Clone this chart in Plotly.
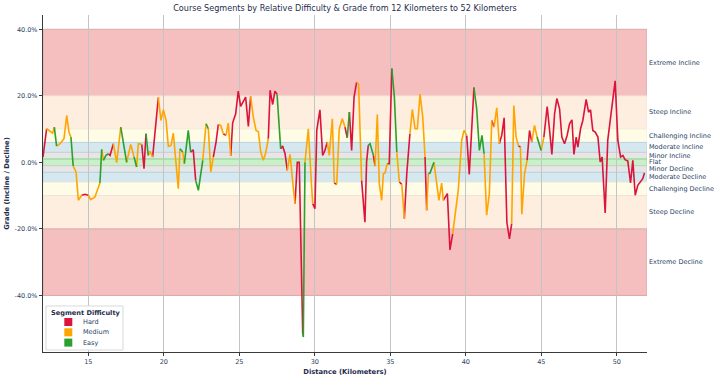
import plotly.graph_objects as go

# ---- data ----
distance_km = [
    12.0, 12.24, 12.46, 12.64, 12.75, 12.9, 13.13, 13.39, 13.57, 13.72, 13.85, 14.0, 14.19, 14.34, 14.56,
    14.78, 15.0, 15.16, 15.44, 15.6, 15.77, 15.89, 16.0, 16.17, 16.33, 16.44, 16.66, 16.88, 17.15, 17.32,
    17.54, 17.81, 18.03, 18.2, 18.31, 18.54, 18.69, 18.82, 18.97, 19.09, 19.26, 19.48, 19.64, 19.81, 19.97,
    20.15, 20.3, 20.48, 20.63, 20.79, 20.96, 21.07, 21.25, 21.36, 21.62, 21.78, 21.95, 22.11, 22.29, 22.58,
    22.8, 22.95, 23.11, 23.28, 23.46, 23.61, 23.77, 23.94, 24.12, 24.27, 24.43, 24.56, 24.76, 24.93, 25.09,
    25.27, 25.42, 25.6, 25.75, 25.93, 26.11, 26.26, 26.42, 26.59, 26.75, 26.92, 27.04, 27.21, 27.36, 27.5,
    27.74, 27.87, 28.03, 28.18, 28.36, 28.58, 28.69, 28.84, 28.97, 29.2, 29.24, 29.35, 29.57, 29.79, 29.86,
    30.01, 30.13, 30.34, 30.52, 30.67, 30.83, 30.96, 31.16, 31.29, 31.45, 31.62, 31.82, 32.0, 32.15, 32.29,
    32.44, 32.6, 32.77, 32.9, 33.1, 33.32, 33.43, 33.54, 33.66, 33.88, 33.99, 34.14, 34.27, 34.43, 34.54,
    34.65, 34.8, 34.93, 35.1, 35.27, 35.43, 35.6, 35.76, 35.93, 36.09, 36.3, 36.46, 36.64, 36.79, 36.97,
    37.15, 37.3, 37.41, 37.52, 37.63, 37.89, 38.07, 38.22, 38.4, 38.51, 38.78, 38.95, 39.13, 39.28, 39.5,
    39.73, 39.88, 40.06, 40.23, 40.54, 40.72, 40.9, 41.07, 41.21, 41.38, 41.56, 41.72, 41.87, 42.05, 42.22,
    42.38, 42.54, 42.72, 42.89, 43.04, 43.18, 43.33, 43.49, 43.62, 43.71, 43.89, 44.06, 44.22, 44.37, 44.55,
    44.72, 44.88, 44.99, 45.17, 45.39, 45.55, 45.7, 45.88, 46.03, 46.21, 46.36, 46.54, 46.71, 46.87, 47.03,
    47.16, 47.31, 47.42, 47.6, 47.75, 47.97, 48.13, 48.26, 48.41, 48.57, 48.75, 48.9, 49.03, 49.23, 49.4,
    49.62, 49.89, 50.07, 50.25, 50.4, 50.55, 50.73, 50.91, 51.06, 51.22, 51.39, 51.57, 51.72, 51.83,
]
grade_pct = [
    1.6, 10.1, 9.4, 8.8, 10.6, 4.9, 5.6, 7.1, 14.1, 9.1, 7.6, -1.1, -2.9, -11.4, -9.9,
    -9.6, -9.9, -11.2, -10.4, -8.4, -6.2, 3.9, 0.6, 2.1, 2.6, 2.1, 5.6, -0.1, 10.6, 5.6,
    0.0, 5.4, 1.6, -1.4, 5.6, 5.4, -1.9, 8.6, 2.1, 3.3, 1.6, 12.6, 19.5, 12.6, 15.8,
    12.6, 4.8, 5.1, 8.8, 1.6, -7.9, 4.1, 3.1, -0.4, 9.6, 3.1, 3.8, -5.4, -8.4, 0.6,
    11.6, 10.1, -2.9, 1.6, 6.1, 11.4, 11.1, 8.6, 8.1, 11.8, 1.9, 11.9, 14.6, 21.4, 16.8,
    18.6, 19.6, 10.8, 19.8, 13.6, 9.6, 9.3, 3.1, 0.6, 2.9, 7.1, 21.7, 17.4, 21.4, 20.5,
    4.1, 4.9, 2.6, -2.4, 2.4, -7.9, -12.4, 0.0, 0.0, -51.5, -52.5, 0.0, 10.1, -7.4, -12.4,
    -13.9, 9.6, 15.8, 2.1, 3.6, 6.1, 2.1, 13.1, -6.2, -6.6, 10.1, 13.1, 10.6, 7.4, 15.1,
    3.6, 19.6, 24.1, 23.5, -5.4, -18.0, 0.1, 5.1, 5.6, 2.1, -1.1, 14.4, -6.4, -11.4, -3.4,
    -3.2, -0.4, -0.4, 28.2, 19.6, 3.1, -5.9, -6.6, -16.9, -3.4, 8.6, 15.9, 10.1, 10.1, 20.5,
    13.6, 1.6, -14.4, -3.4, -3.2, 0.0, -6.4, -11.4, -6.2, -11.4, -9.4, -26.3, -21.5, -16.4, -8.4,
    6.6, 9.6, 8.1, -3.6, 22.5, 16.1, 3.6, 8.1, 2.6, -15.9, -9.4, 12.6, 10.6, 16.4, 5.6,
    8.1, 13.4, -18.0, -23.0, -18.4, 17.1, 7.6, 4.9, 4.6, -15.6, -3.4, 0.6, 9.6, 6.1, 11.1,
    7.6, 5.1, 3.6, 7.6, 16.8, 9.6, 2.4, 14.6, 19.2, 16.1, 7.6, 5.6, 8.1, 11.6, 12.8,
    2.4, 7.6, 4.6, 10.1, 12.6, 18.9, 15.1, 15.8, 9.6, 9.1, 7.6, 0.1, 1.6, -15.2, 6.6,
    15.1, 24.5, 6.6, 1.6, 2.1, 0.8, 0.4, -6.2, 0.6, -9.9, -6.9, -5.9, -4.9, -3.2,
]
# difficulty of the segment ending at each point (first entry unused): H=Hard, M=Medium, E=Easy
segment_difficulty = list(
    "-HMMMEMMMMMEMMM"
    "HHMMMMEMEEHHMME"
    "EMMEMMHHEMMHHMM"
    "MMMMMMMEMEEHHEE"
    "MEMMHHMMHMMHHHH"
    "HHHHMMMMMMMHHHH"
    "EHHHMMMHHHEEMMM"
    "HHHHHHMMMHMMMHE"
    "HHHMMHHHEEHMMMM"
    "MMHHEEMHMHHMMMM"
    "MMHMEEMMMMHHHMM"
    "MMMHHEEEEMMMHMM"
    "HHHHHMMMHMMMHHM"
    "MEEMHHHHHHHHHHH"
    "HHHHHHHHHHHHHHH"
    "HHHHHHHHHHHHHH"
)
difficulty_names = {"H": "Hard", "M": "Medium", "E": "Easy"}
difficulty_colors = {"Hard": "#dc143c", "Medium": "#ffa500", "Easy": "#2ca02c"}
legend_order = ["Hard", "Medium", "Easy"]

band_names = ["Extreme Incline", "Steep Incline", "Challenging Incline", "Moderate Incline", "Minor Incline",
              "Flat", "Minor Decline", "Moderate Decline", "Challenging Decline", "Steep Decline", "Extreme Decline"]
band_low = [20, 10, 6, 3, 1, -1, -3, -6, -10, -20, -40]
band_high = [40, 20, 10, 6, 3, 1, -1, -3, -6, -10, -20]
band_fill = ["#f6bfbf", "#fdeee0", "#fefce6", "#d5e8f0", "#e6e6e6", "#c8f1c8",
             "#e6e6e6", "#d5e8f0", "#fefce6", "#fdeee0", "#f6bfbf"]
band_line = ["#d9a9a9", "#f2e2d4", "#f5f3dc", "#b9d3de", "#cfcfcf", "#8fd88f",
             "#cfcfcf", "#b9d3de", "#f5f3dc", "#f2e2d4", "#d9a9a9"]

x_ticks = [15, 20, 25, 30, 35, 40, 45, 50]
y_ticks = [40, 20, 0, -20, -40]
y_tick_text = ["40.0%", "20.0%", "0.0%", "-20.0%", "-40.0%"]

font_family = "DejaVu Sans"
text_color = "#2a3f5f"

# plot-area geometry (pixels) used to place the hand-drawn legend box
W, H = 720, 378
ML, MR, MT, MB = 43, 73, 15, 26
PW, PH = W - ML - MR, H - MT - MB


def px(xp):
    return (xp - ML) / PW


def py(yp):
    return (H - MB - yp) / PH


fig = go.Figure()

# bands
for name, lo, hi, fc, lc in zip(band_names, band_low, band_high, band_fill, band_line):
    fig.add_shape(type="rect", xref="x", yref="y", x0=12, x1=52, y0=lo, y1=hi,
                  fillcolor=fc, line=dict(color=lc, width=1), layer="below")
    fig.add_annotation(xref="paper", yref="y", x=1.0, y=(lo + hi) / 2, text=name, showarrow=False,
                       xanchor="left", yanchor="middle", xshift=0,
                       font=dict(size=6.5, color=text_color, family=font_family))

# coloured line segments, grouped per difficulty
n = min(len(distance_km), len(grade_pct), len(segment_difficulty))
for code, name in difficulty_names.items():
    xs, ys = [], []
    i = 1
    while i < n:
        if segment_difficulty[i] == code:
            xs.append(distance_km[i - 1]); ys.append(grade_pct[i - 1])
            while i < n and segment_difficulty[i] == code:
                xs.append(distance_km[i]); ys.append(grade_pct[i])
                i += 1
            xs.append(None); ys.append(None)
        else:
            i += 1
    fig.add_trace(go.Scatter(x=xs, y=ys, mode="lines", name=name,
                             line=dict(color=difficulty_colors[name], width=1.6),
                             showlegend=False, hoverinfo="skip", connectgaps=False))

# legend box (drawn by hand so its compact spacing matches)
fig.add_shape(type="rect", xref="paper", yref="paper", x0=px(46), x1=px(123), y0=py(350), y1=py(306),
              fillcolor="white", line=dict(color="#d9d9d9", width=1), layer="above")
fig.add_annotation(xref="paper", yref="paper", x=px(49), y=py(312.5), text="<b>Segment Difficulty</b>",
                   showarrow=False, xanchor="left", yanchor="middle",
                   font=dict(size=6.6, color="#1f2d4d", family=font_family))
for k, name in enumerate(legend_order):
    yc = 322 + k * 10.3
    fig.add_shape(type="rect", xref="paper", yref="paper", x0=px(64.3), x1=px(72.3), y0=py(yc + 4), y1=py(yc - 4),
                  fillcolor=difficulty_colors[name], line=dict(width=0), layer="above")
    fig.add_annotation(xref="paper", yref="paper", x=px(80.5), y=py(yc), text=name, showarrow=False,
                       xanchor="left", yanchor="middle",
                       font=dict(size=6.5, color=text_color, family=font_family))

fig.update_layout(
    width=W, height=H,
    template="plotly_white",
    paper_bgcolor="white", plot_bgcolor="white",
    margin=dict(l=ML, r=MR, t=MT, b=MB, autoexpand=False),
    font=dict(family=font_family, color=text_color, size=6.5),
    title=dict(text="Course Segments by Relative Difficulty & Grade from 12 Kilometers to 52 Kilometers",
               x=0.5, xref="paper", xanchor="center", y=1 - 8 / H, yanchor="middle",
               font=dict(size=8.1, color="#1f2d4d", family=font_family)),
    showlegend=False,
)
fig.update_xaxes(range=[12, 52], tickvals=x_ticks, showgrid=True, gridcolor="#c4c4c4", gridwidth=1,
                 showline=True, linecolor="#3a3a3a", linewidth=1.3, ticks="outside", ticklen=3,
                 tickcolor="#3a3a3a", zeroline=False, tickfont=dict(size=6.5), automargin=False,
                 title=dict(text="<b>Distance (Kilometers)</b>", font=dict(size=6.8, color="#1f2d4d"), standoff=4))
fig.update_yaxes(range=[-57, 44.3], tickvals=y_ticks, ticktext=y_tick_text,
                 showgrid=False, zeroline=False, automargin=False,
                 showline=True, linecolor="#3a3a3a", linewidth=1.3, ticks="outside", ticklen=3,
                 tickcolor="#3a3a3a", tickfont=dict(size=6.5),
                 title=dict(text="<b>Grade (Incline / Decline)</b>", font=dict(size=6.8, color="#1f2d4d"), standoff=4))

fig.write_html("out.html", config={"displayModeBar": False},
               post_script="document.body.style.margin='0';document.body.style.padding='0';"
                           "document.documentElement.style.overflow='hidden';")
